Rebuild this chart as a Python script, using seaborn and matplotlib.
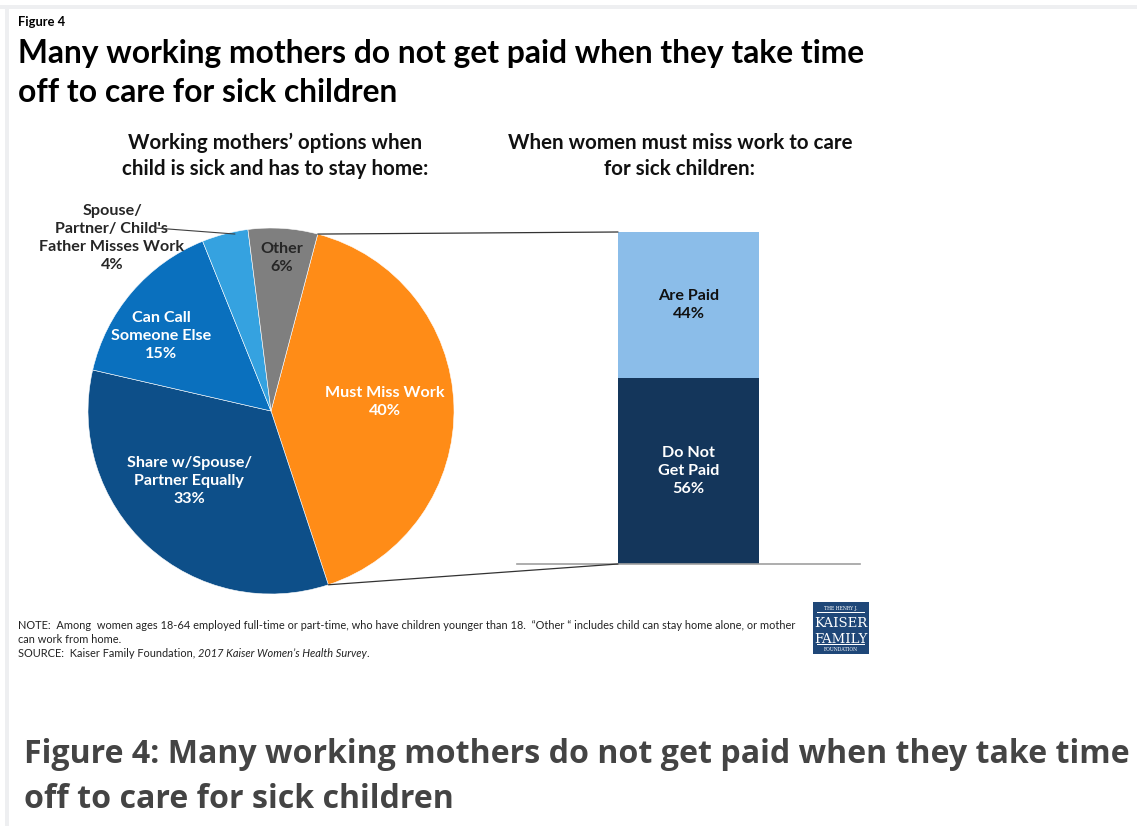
import matplotlib
matplotlib.use("Agg")
import matplotlib.pyplot as plt
import seaborn as sns
import pandas as pd
import numpy as np
from matplotlib.patches import ConnectionPatch, Rectangle

# ---------------- data ----------------
pie_labels = ["Must Miss Work", "Share w/Spouse/\nPartner Equally", "Can Call\nSomeone Else",
              "Spouse/\nPartner/ Child's\nFather Misses Work", "Other"]
pie_values = [40, 33, 15, 4, 6]
pie_colors = ["#FF8C17", "#0D4F89", "#0A70BE", "#35A2E0", "#7F7F7F"]

bar_labels = ["Are Paid", "Do Not\nGet Paid"]
bar_values = [44, 56]
bar_colors = ["#8BBDE9", "#14365B"]

title_lines = ["Many working mothers do not get paid when they take time",
               "off to care for sick children"]
caption_lines = ["Figure 4: Many working mothers do not get paid when they take time",
                 "off to care for sick children"]

# ---------------- figure ----------------
sns.set_theme(style="white")
plt.rcParams["font.family"] = ["Lato", "DejaVu Sans"]

W, H = 1137, 826
fig = plt.figure(figsize=(W / 100, H / 100), dpi=100)
fig.patch.set_facecolor("white")


def fx(px):
    return px / W


def fy(py):
    return 1 - py / H


renderer = fig.canvas.get_renderer()


def fit(t, target):
    w = t.get_window_extent(renderer).width
    t.set_fontsize(t.get_fontsize() * target / w)
    return t.get_fontsize()


def put(px, py, s, size=12, **kw):
    kw.setdefault("va", "baseline")
    return fig.text(fx(px), fy(py), s, fontsize=size, **kw)


# light page border (screenshot frame)
fig.add_artist(Rectangle((0, fy(9)), 1, 4 / H, transform=fig.transFigure,
                         facecolor="#EEEFF1", edgecolor="none"))
fig.add_artist(Rectangle((fx(5), 0), 4 / W, fy(5), transform=fig.transFigure,
                         facecolor="#EEEFF1", edgecolor="none"))

# headers
t = put(18, 26, "Figure 4", 8, fontweight="bold", color="black")
fit(t, 47)
t1 = put(18, 63, title_lines[0], 22, fontweight="bold", color="black")
fs = fit(t1, 846)
put(18, 102, title_lines[1], fs, fontweight="bold", color="black")

s1 = put(275, 149, "Working mothers\u2019 options when", 12, fontweight="bold",
         color="#111111", ha="center")
s2 = put(275, 175, "child is sick and has to stay home:", 12, fontweight="bold",
         color="#111111", ha="center")
sfs = fit(s2, 304)
s1.set_fontsize(sfs)
put(680, 149, "When women must miss work to care", sfs, fontweight="bold",
    color="#111111", ha="center")
put(680, 175, "for sick children:", sfs, fontweight="bold", color="#111111", ha="center")

# ---------------- pie ----------------
axp = fig.add_axes([fx(88), fy(594), 366 / W, 366 / H])
wedges, _ = axp.pie(pie_values, colors=pie_colors, startangle=75.2, counterclock=False,
                    radius=1, wedgeprops=dict(edgecolor="white", linewidth=0.4))
axp.set_xlim(-1, 1)
axp.set_ylim(-1, 1)
axp.set_aspect("auto")
axp.axis("off")

pct = [f"{v}%" for v in pie_values]
label_pos = [(0.623, 0.049), (-0.448, -0.383), (-0.601, 0.41), (-0.869, 0.945), (0.06, 0.836)]
label_col = ["white", "white", "white", "#262626", "#262626"]
LS = 1.38
ptexts = []
for lab, p, pos, c in zip(pie_labels, pct, label_pos, label_col):
    tt = axp.text(pos[0], pos[1], f"{lab}\n{p}", ha="center", va="center",
                  multialignment="center", color=c, fontsize=11, fontweight="bold",
                  linespacing=LS, clip_on=False)
    ptexts.append(tt)
pfs = fit(ptexts[0], 116) * 1.03
for tt in ptexts:
    tt.set_fontsize(pfs)

# leader line for small slice
axp.annotate("", xy=(-0.197, 0.967), xytext=(-0.634, 1.0),
             arrowprops=dict(arrowstyle="-", color="#404040", lw=0.8,
                             shrinkA=0, shrinkB=0), annotation_clip=False)

# ---------------- stacked bar ----------------
axb = fig.add_axes([fx(517), fy(564), 343 / W, (564 - 232) / H])
df_total = pd.DataFrame({"cat": ["Miss work"], "value": [sum(bar_values)]})
df_bottom = pd.DataFrame({"cat": ["Miss work"], "value": [bar_values[1]]})
sns.barplot(data=df_total, x="cat", y="value", color=bar_colors[0], saturation=1,
            width=0.8, ax=axb, linewidth=0)
sns.barplot(data=df_bottom, x="cat", y="value", color=bar_colors[1], saturation=1,
            width=0.8, ax=axb, linewidth=0)
axb.set_xlim(-0.973, 0.973)
axb.set_ylim(0, 100)
axb.set_xlabel("")
axb.set_ylabel("")
axb.set_xticks([])
axb.set_yticks([])
for sp in ["top", "left", "right"]:
    axb.spines[sp].set_visible(False)
axb.spines["bottom"].set_color("#A0A0A0")
axb.spines["bottom"].set_linewidth(1.2)
axb.patch.set_alpha(0)

# bar segment labels
bottoms = [bar_values[1], 0]
bcol = ["#111111", "white"]
for lab, v, b, c in zip(bar_labels, bar_values, bottoms, bcol):
    axb.text(0, b + v / 2, f"{lab}\n{v}%", ha="center", va="center", color=c,
             fontsize=pfs, fontweight="bold", linespacing=LS, multialignment="center")

# connectors from "Must Miss Work" wedge to bar
w0 = wedges[0]
for ang, yv in [(w0.theta2, 100), (w0.theta1, 0)]:
    xa = np.cos(np.deg2rad(ang))
    ya = np.sin(np.deg2rad(ang))
    con = ConnectionPatch(xyA=(xa, ya), coordsA=axp.transData,
                          xyB=(-0.4, yv), coordsB=axb.transData,
                          color="#333333", lw=0.9)
    fig.add_artist(con)

# ---------------- notes ----------------
n1 = put(18, 629, "NOTE:  Among  women ages 18-64 employed full-time or part-time, who have children "
         "younger than 18.  \u201cOther \u201c includes child can stay home alone, or mother",
         7, color="#222222")
nfs = fit(n1, 774)
put(18, 643, "can work from home.", nfs, color="#222222")
src = put(18, 657, "SOURCE:  Kaiser Family Foundation, ", nfs, color="#222222")
bb = src.get_window_extent(renderer)
it = put(bb.x1, 657, "2017 Kaiser Women\u2019s Health Survey", nfs, color="#222222",
         style="italic")
bb2 = it.get_window_extent(renderer)
put(bb2.x1, 657, ".", nfs, color="#222222")

# logo
fig.add_artist(Rectangle((fx(813), fy(654)), 56 / W, 52 / H, transform=fig.transFigure,
                         facecolor="#1F4778", edgecolor="none"))
lx = 841
put(lx, 610, "THE HENRY J.", 3.3, color="white", ha="center", family="DejaVu Serif")
put(lx, 627, "KAISER", 9.5, color="white", ha="center", family="DejaVu Serif")
put(lx, 643, "FAMILY", 9.5, color="white", ha="center", family="DejaVu Serif")
put(lx, 651, "FOUNDATION", 3.3, color="white", ha="center", family="DejaVu Serif")
for yy in [613, 645]:
    fig.add_artist(Rectangle((fx(817), fy(yy)), 48 / W, 0.8 / H, transform=fig.transFigure,
                             facecolor="white", edgecolor="none"))

# bottom caption
c1 = put(24, 763, caption_lines[0], 22, fontweight="bold", color="#444444",
         family=["Open Sans", "DejaVu Sans"])
cfs = fit(c1, 1102)
put(24, 808, caption_lines[1], cfs, fontweight="bold", color="#444444",
    family=["Open Sans", "DejaVu Sans"])

fig.savefig("out.png", dpi=100, facecolor="white")
